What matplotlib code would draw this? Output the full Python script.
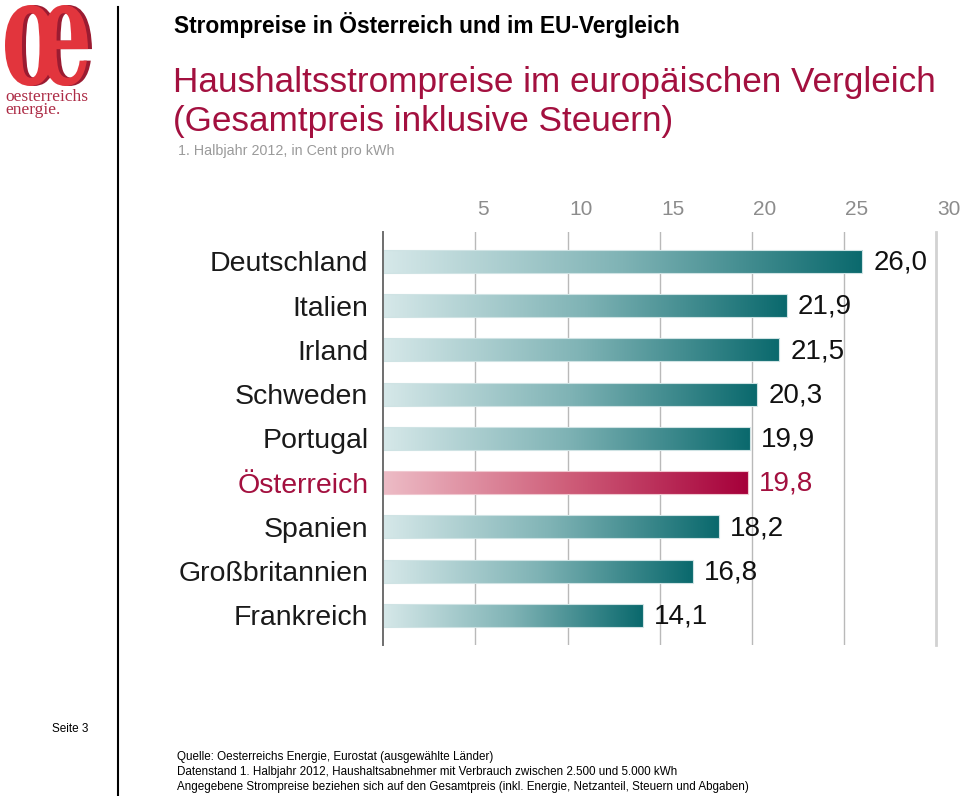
import numpy as np
import matplotlib
matplotlib.use("Agg")
import matplotlib.pyplot as plt
from matplotlib.colors import LinearSegmentedColormap
from matplotlib.textpath import TextPath
from matplotlib.font_manager import FontProperties
from matplotlib.patches import PathPatch
from matplotlib.transforms import Affine2D, IdentityTransform, blended_transform_factory, ScaledTranslation
from matplotlib.lines import Line2D

# ---------------- data ----------------
countries = ["Deutschland", "Italien", "Irland", "Schweden", "Portugal",
             "Österreich", "Spanien", "Großbritannien", "Frankreich"]
prices = [26.0, 21.9, 21.5, 20.3, 19.9, 19.8, 18.2, 16.8, 14.1]
price_labels = ["26,0", "21,9", "21,5", "20,3", "19,9", "19,8", "18,2", "16,8", "14,1"]
ticks = [5, 10, 15, 20, 25, 30]
tick_labels = ["5", "10", "15", "20", "25", "30"]
highlight = "Österreich"

header = "Strompreise in Österreich und im EU-Vergleich"
title_lines = ["Haushaltsstrompreise im europäischen Vergleich",
               "(Gesamtpreis inklusive Steuern)"]
subtitle = "1. Halbjahr 2012, in Cent pro kWh"
page = "Seite 3"
footer = ["Quelle: Oesterreichs Energie, Eurostat (ausgewählte Länder)",
          "Datenstand 1. Halbjahr 2012, Haushaltsabnehmer mit Verbrauch zwischen 2.500 und 5.000 kWh",
          "Angegebene Strompreise beziehen sich auf den Gesamtpreis (inkl. Energie, Netzanteil, Steuern und Abgaben)"]

# ---------------- style ----------------
plt.rcParams['font.family'] = ['Liberation Sans', 'DejaVu Sans']
CRIMSON = "#a3103f"
W, H = 960, 796
fig = plt.figure(figsize=(W / 100, H / 100), dpi=100)


def fx(x):
    return x / W


def fy(y):
    return 1 - y / H


# ---------------- logo ----------------
fp = FontProperties(family="DejaVu Serif", weight="bold")
tp = TextPath((0, 0), "œ", prop=fp, size=1)
ext = tp.get_extents()
bx0, bx1, by0, by1 = 5, 88, H - 86, H - 5
tr = (Affine2D().translate(-ext.x0, -ext.y0)
      .scale((bx1 - bx0) / ext.width, (by1 - by0) / ext.height)
      .translate(bx0, by0))
shadow = PathPatch(tr.transform_path(tp), facecolor="#9b1b31", edgecolor="none",
                   transform=Affine2D().translate(4, 0) + IdentityTransform())
front = PathPatch(tr.transform_path(tp), facecolor="#e2353d", edgecolor="none",
                  transform=IdentityTransform())
fig.add_artist(shadow)
fig.add_artist(front)
fig.text(fx(5), fy(89), "oesterreichs\nenergie.", family="Liberation Serif", fontsize=12.5,
         color="#ad2c46", va="top", ha="left", linespacing=0.72)

# vertical divider
fig.add_artist(Line2D([fx(118), fx(118)], [fy(7), fy(796)], color="black", lw=1.5))

# ---------------- texts ----------------
fig.text(fx(174), fy(33), header, fontsize=16.4, weight="bold", color="black",
         va="baseline", ha="left")
fig.text(fx(173), fy(92), title_lines[0], fontsize=25.3, color=CRIMSON,
         va="baseline", ha="left")
fig.text(fx(173), fy(131), title_lines[1], fontsize=25.3, color=CRIMSON,
         va="baseline", ha="left")
fig.text(fx(178), fy(155), subtitle, fontsize=10.3, color="#9a9a9a",
         va="baseline", ha="left")
fig.text(fx(52), fy(729), page, fontsize=8.5, color="black", va="center", ha="left")
for k, line in enumerate(footer):
    fig.text(fx(177), fy(757 + 15 * k), line, fontsize=8.4, color="black",
             va="center", ha="left")

# ---------------- chart ----------------
ax_top, ax_bot, ax_left, ax_right = 231.7, 645, 383.3, 936
ax = fig.add_axes([fx(ax_left), fy(ax_bot), (ax_right - ax_left) / W, (ax_bot - ax_top) / H])
n = len(countries)
ypos = np.arange(n)

teal = LinearSegmentedColormap.from_list("teal", ["#d6e8e9", "#7fb3b5", "#0a696d"])
red = LinearSegmentedColormap.from_list("red", ["#edbcc6", "#cf5f7a", "#a6003a"])

bar_h = 0.52
bars = ax.barh(ypos, prices, height=bar_h, color="none", edgecolor="none", zorder=2)
grad = np.linspace(0, 1, 256).reshape(1, -1)
for i, b in enumerate(bars):
    cmap = red if countries[i] == highlight else teal
    im = ax.imshow(grad, cmap=cmap, extent=[0, prices[i], i + bar_h / 2, i - bar_h / 2],
                   aspect="auto", zorder=2, interpolation="bilinear")
    im.set_clip_path(b)
# thin light outline on bars
ax.barh(ypos, prices, height=bar_h, color="none",
        edgecolor=["#f0c8d0" if c == highlight else "#cfe3e4" for c in countries],
        lw=0.8, zorder=3)

ax.set_xlim(0, 30)
ax.set_ylim(n - 1 + 0.67, -0.67)
for s in ax.spines.values():
    s.set_visible(False)

# grid lines
for t in ticks[:-1]:
    ax.axvline(t, color="#b9b9b9", lw=1.0, zorder=1)
ax.axvline(ticks[-1], color="#d2d2d2", lw=2.0, zorder=1, clip_on=False)
ax.axvline(0, color="#6e6e6e", lw=1.4, zorder=4, clip_on=False)

# tick labels at top
ax.set_xticks([])
tick_tr = blended_transform_factory(ax.transData, ax.transAxes) + \
    ScaledTranslation(1.5 / 100, 0, fig.dpi_scale_trans)
for t, lab in zip(ticks, tick_labels):
    ax.text(t, 1 + 22.7 / (ax_bot - ax_top), lab, transform=tick_tr, fontsize=15,
            color="#8c8c8c", ha="left", va="center")

# category labels
ax.set_yticks(ypos)
ax.set_yticklabels(countries, fontsize=20.5, color="#1a1a1a")
ax.tick_params(axis="y", length=0, pad=10.8)
for lab in ax.get_yticklabels():
    if lab.get_text() == highlight:
        lab.set_color(CRIMSON)

# value labels
for i, (v, lab) in enumerate(zip(prices, price_labels)):
    ax.annotate(lab, (v, i), xytext=(8, -1), textcoords="offset points",
                fontsize=20, va="center", ha="left",
                color=CRIMSON if countries[i] == highlight else "#111111")

fig.savefig("out.png", dpi=100)
